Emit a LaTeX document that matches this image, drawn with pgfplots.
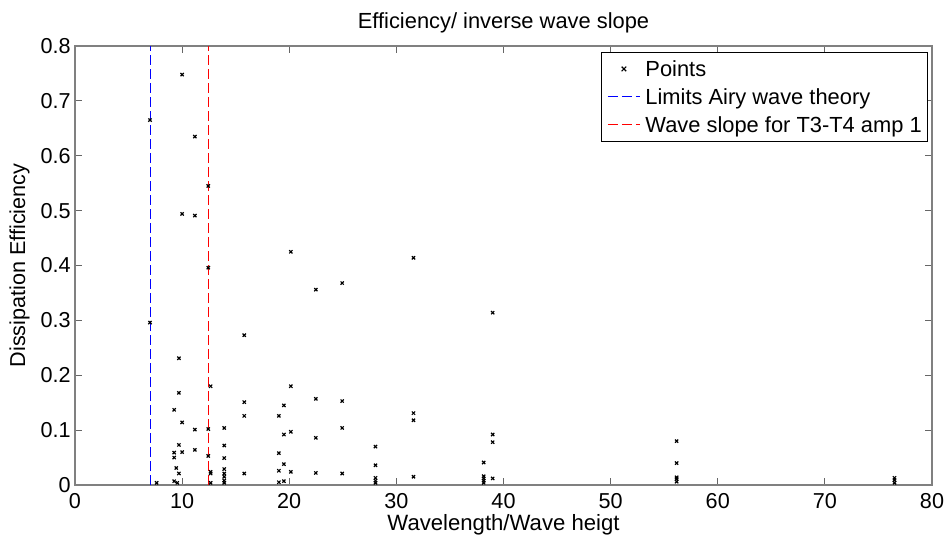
\documentclass[border=0pt]{standalone}
\usepackage{fontspec}
\setmainfont{Liberation Sans}
\usepackage{pgfplots}
\pgfplotsset{compat=1.18}
\pgfplotsset{
  bluelegend/.style={legend image code/.code={\begin{scope}\color{blue}\pgfsetstrokecolor{blue}\draw[blue, line width=0.8pt, dash pattern=on 7.5pt off 3pt] (0pt,0pt) -- (24pt,0pt);\end{scope}}},
  redlegend/.style={legend image code/.code={\begin{scope}\color{red}\pgfsetstrokecolor{red}\draw[red, line width=0.8pt, dash pattern=on 7.5pt off 3pt] (0pt,0pt) -- (24pt,0pt);\end{scope}}},
  marklegend/.style={legend image code/.code={\draw[black, line width=0.9pt] (10.3pt,-1.7pt) -- (13.7pt,1.7pt) (10.3pt,1.7pt) -- (13.7pt,-1.7pt);}},
}
\begin{document}
\begin{tikzpicture}
\begin{axis}[
  name=ax,
  scale only axis, width=642.75pt, height=329.25pt,
  xmin=0, xmax=80, ymin=0, ymax=0.8,
  xtick={0,10,20,30,40,50,60,70,80},
  ytick={0,0.1,0.2,0.3,0.4,0.5,0.6,0.7,0.8},
  yticklabels={0,0.1,0.2,0.3,0.4,0.5,0.6,0.7,0.8},
  /pgf/number format/assume math mode=true,
  tick align=inside, major tick length=5.6pt,
  axis line style={draw=black!50, line width=0.8pt},
  tick style={draw=black!60, line width=0.6pt},
  ticklabel style={font=\fontsize{16.2}{19}\selectfont},
  xticklabel style={anchor=base, yshift=-17.5pt},
  yticklabel style={anchor=east, inner sep=0pt, xshift=-3pt},
  title={Efficiency/ inverse wave slope},
  title style={font=\fontsize{16.4}{19}\selectfont, at={(axis description cs:0.5,1.022)}, anchor=base},
  xlabel={Wavelength/Wave heigt},
  xlabel style={font=\fontsize{16.6}{19}\selectfont, at={(axis description cs:0.5,-0.103)}, anchor=base},
  ylabel={Dissipation Efficiency},
  ylabel style={font=\fontsize{16.2}{19}\selectfont, at={(axis description cs:-0.0583,0.5)}, anchor=base, rotate=0},
  legend style={at={(1,1)}, anchor=north east, xshift=-3pt, yshift=-4.7pt,
    draw=black,
    font=\fontsize{16.4}{19}\selectfont,
    cells={anchor=west},
    nodes={inner sep=0pt, text height=14pt, text depth=3pt},
    inner xsep=4.5pt, inner ysep=3.8pt, row sep=4pt, column sep=3.75pt},
]
\addlegendimage{marklegend}
\addlegendentry{Points}
\addlegendimage{bluelegend}
\addlegendentry{Limits Airy wave theory}
\addlegendimage{redlegend}
\addlegendentry{Wave slope for T3-T4 amp 1}
\addplot[only marks, mark=x, mark size=1.7pt, mark options={line width=0.9pt}, black, forget plot]
coordinates {
(7,0.665) (7,0.296)
(7.62,0.004)
(9.26,0.137) (9.26,0.059) (9.26,0.050) (9.26,0.007)
(9.45,0.031)
(9.55,0.004)
(9.70,0.231) (9.70,0.168) (9.70,0.073) (9.70,0.021)
(10.0,0.748) (10.0,0.494) (10.0,0.114) (10.0,0.060)
(11.19,0.635) (11.19,0.491) (11.19,0.101) (11.19,0.064)
(12.44,0.545) (12.44,0.396) (12.44,0.102) (12.44,0.053)
(12.66,0.180) (12.66,0.024) (12.66,0.021) (12.66,0.004)
(13.93,0.104) (13.93,0.072) (13.93,0.049) (13.93,0.029) (13.93,0.021) (13.93,0.015) (13.93,0.008) (13.93,0.004)
(15.8,0.273) (15.8,0.151) (15.8,0.126) (15.8,0.021)
(19.03,0.126) (19.03,0.058) (19.03,0.026) (19.03,0.005)
(19.5,0.145) (19.5,0.092) (19.5,0.038) (19.5,0.007)
(20.15,0.425) (20.15,0.180) (20.15,0.097) (20.15,0.024)
(22.48,0.356) (22.48,0.157) (22.48,0.086) (22.48,0.022)
(24.94,0.368) (24.94,0.153) (24.94,0.104) (24.94,0.021)
(28.05,0.070) (28.05,0.036) (28.05,0.013) (28.05,0.008) (28.05,0.004)
(31.6,0.414) (31.6,0.131) (31.6,0.118) (31.6,0.015)
(38.15,0.041) (38.15,0.016) (38.15,0.012) (38.15,0.008) (38.15,0.004)
(38.99,0.314) (38.99,0.092) (38.99,0.078) (38.99,0.012)
(56.16,0.080) (56.16,0.040) (56.16,0.014) (56.16,0.011) (56.16,0.006)
(76.5,0.013) (76.5,0.009) (76.5,0.004)
};
\addplot[draw=blue, line width=0.7pt, dash pattern=on 7.5pt off 3pt, forget plot] coordinates {(7,0) (7,0.8)};
\addplot[draw=red, line width=0.7pt, dash pattern=on 7.5pt off 3pt, forget plot] coordinates {(12.5,0) (12.5,0.8)};
\end{axis}
\pgfresetboundingbox
\path[use as bounding box] ([xshift=-56.25pt,yshift=-38.25pt]ax.south west) rectangle ([xshift=9.75pt,yshift=34.5pt]ax.north east);
\end{tikzpicture}
\end{document}
